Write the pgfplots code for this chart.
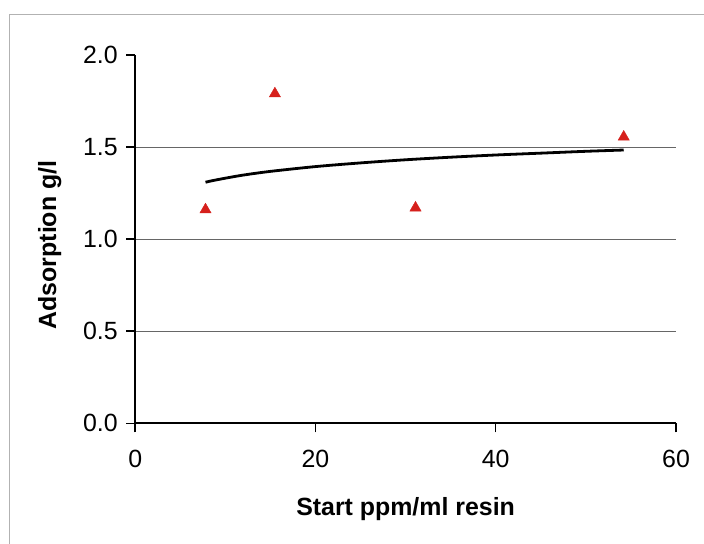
\documentclass[border=0pt]{standalone}
\usepackage{pgfplots}
\pgfplotsset{compat=1.18}
\usepackage{fontspec}
\setmainfont{Liberation Sans}

% measured adsorption against start concentration
\pgfplotstableread{
x     y
7.8   1.16
15.5  1.79
31.1  1.17
54.2  1.555
}\measured

% logarithmic trend line through the measurements
\pgfplotstableread{
x     y
7.8   1.309
8.5   1.317
10    1.331
12    1.348
15    1.368
20    1.394
25    1.414
30    1.431
35    1.445
40    1.457
45    1.467
50    1.477
54.2  1.484
}\trend

\definecolor{markred}{RGB}{214,32,28}
\newcommand\ticksize{\fontsize{25}{29}\selectfont}

\begin{document}
\begin{tikzpicture}
\useasboundingbox (0,0) rectangle (704bp,544bp);
\fill[white] (0,0) rectangle (704bp,544bp);
% chart area frame
\draw[gray!60, line width=0.8bp] (9bp,0) -- (9bp,530bp) -- (704bp,530bp);
\begin{axis}[
  scale only axis,
  width=540.8bp, height=368.3bp,
  at={(135.2bp,120.7bp)}, anchor=south west,
  xmin=0, xmax=60, ymin=0, ymax=2,
  axis lines*=left,
  axis line style={line width=1.7bp, black, -},
  tick align=outside,
  major tick length=9bp,
  tick style={line width=1.5bp, black},
  xtick={0,20,40,60},
  ytick={0,0.5,1,1.5},
  extra y ticks={2},
  extra y tick labels={2.0},
  extra y tick style={grid=none},
  ymajorgrids,
  grid style={line width=0.9bp, gray!80!black},
  /pgf/number format/assume math mode=true,
  /pgf/number format/fixed,
  /pgf/number format/fixed zerofill,
  /pgf/number format/precision=1,
  xticklabel style={font=\ticksize, yshift=-14bp},
  yticklabel style={font=\ticksize, xshift=-5bp},
  xticklabel={\pgfmathprintnumber[precision=0,fixed zerofill=false]{\tick}},
  label style={font=\fontsize{25}{29}\selectfont\bfseries},
  xlabel={Start ppm/ml resin},
  ylabel={Adsorption g/l},
  xlabel style={at={(axis description cs:0.5,-0.233)}, anchor=center},
  ylabel style={at={(axis description cs:-0.158,0.484)}, anchor=center},
  clip=false,
]
\addplot[black, line width=2.8bp, smooth, no marks] table[x=x, y=y] {\trend};
\addplot[only marks, mark=triangle*, mark size=6.5bp, color=markred] table[x=x, y=y] {\measured};
\end{axis}
\end{tikzpicture}
\end{document}
